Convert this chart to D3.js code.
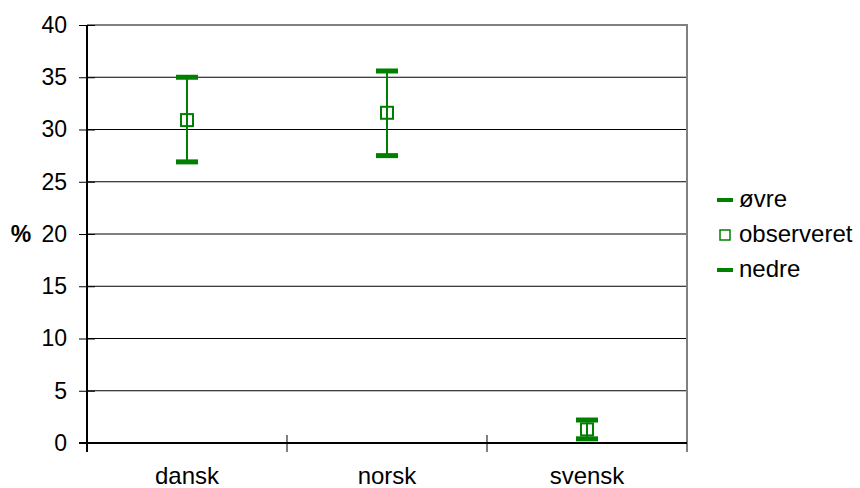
<!DOCTYPE html>
<html>
<head>
<meta charset="utf-8">
<script src="https://cdn.jsdelivr.net/npm/d3@7"></script>
<style>
  body { margin: 0; background: #fff; }
  svg { display: block; font-family: "Liberation Sans", Arial, sans-serif; }
</style>
</head>
<body>
<svg id="chart" width="860" height="488"></svg>
<script>
const categories = ["dansk", "norsk", "svensk"];
const upper = [35.0, 35.6, 2.2];
const observed = [30.9, 31.6, 1.3];
const lower = [26.9, 27.5, 0.4];
const yTicks = [0, 5, 10, 15, 20, 25, 30, 35, 40];
const legendLabels = ["øvre", "observeret", "nedre"];
const yLabel = "%";

const green = "#008000";
const fontSize = 24;
const tickFontSize = 23;
const svg = d3.select("#chart");
const plot = { left: 87, right: 687, top: 25, bottom: 443 };

const x = d3.scaleBand().domain(categories).range([plot.left, plot.right]).padding(0);
const y = d3.scaleLinear().domain([0, 40]).range([plot.bottom, plot.top]);

// gridlines
svg.append("g").selectAll("line").data(yTicks.filter(d => d > 0 && d < 40)).join("line")
  .attr("x1", plot.left).attr("x2", plot.right)
  .attr("y1", d => y(d)).attr("y2", d => y(d))
  .attr("stroke", "#000").attr("stroke-width", 1);

// top and right border (gray)
svg.append("line").attr("x1", plot.left).attr("x2", plot.right + 1)
  .attr("y1", plot.top).attr("y2", plot.top).attr("stroke", "#808080").attr("stroke-width", 2);
svg.append("line").attr("x1", plot.right).attr("x2", plot.right)
  .attr("y1", plot.top).attr("y2", plot.bottom).attr("stroke", "#808080").attr("stroke-width", 2);

// y axis
const yAxis = d3.axisLeft(y).tickValues(yTicks).tickSize(0).tickPadding(20);
const gy = svg.append("g").attr("transform", `translate(${plot.left},0)`).call(yAxis);
gy.select(".domain").remove();
gy.selectAll("text").attr("font-size", tickFontSize).attr("fill", "#000")
  .attr("font-family", "Liberation Sans, Arial, sans-serif");
gy.selectAll(".tick").append("line").attr("x1", -8).attr("x2", 8)
  .attr("stroke", "#000").attr("stroke-width", 1);
svg.append("line").attr("x1", plot.left).attr("x2", plot.left)
  .attr("y1", plot.top).attr("y2", plot.bottom + 9).attr("stroke", "#000").attr("stroke-width", 2);

// x axis boundary ticks
const bounds = categories.map(c => x(c)).concat([plot.right]);
svg.append("g").selectAll("line").data(bounds.slice(1)).join("line")
  .attr("x1", d => d).attr("x2", d => d)
  .attr("y1", plot.bottom - 8).attr("y2", plot.bottom + 9)
  .attr("stroke", "#808080").attr("stroke-width", 2);
svg.append("line").attr("x1", plot.left - 8).attr("x2", plot.right)
  .attr("y1", plot.bottom).attr("y2", plot.bottom).attr("stroke", "#000").attr("stroke-width", 2);

// x labels
const xAxis = d3.axisBottom(x).tickSize(0).tickPadding(0);
const gx = svg.append("g").attr("transform", `translate(0,${plot.bottom})`).call(xAxis);
gx.select(".domain").remove();
gx.selectAll("text").attr("font-size", fontSize).attr("fill", "#000")
  .attr("font-family", "Liberation Sans, Arial, sans-serif")
  .attr("dy", null).attr("y", 41);

// y label
svg.append("text").attr("x", 21).attr("y", y(20)).attr("dy", "0.35em")
  .attr("text-anchor", "middle").attr("font-weight", "bold").attr("font-size", tickFontSize).text(yLabel);

// error bars
const data = categories.map((c, i) => ({ c, hi: upper[i], mid: observed[i], lo: lower[i] }));
const cx = d => x(d.c) + x.bandwidth() / 2;
const g = svg.append("g");
g.selectAll("line.v").data(data).join("line").attr("class", "v")
  .attr("x1", cx).attr("x2", cx).attr("y1", d => y(d.hi)).attr("y2", d => y(d.lo))
  .attr("stroke", green).attr("stroke-width", 2);
g.selectAll("line.hi").data(data).join("line").attr("class", "hi")
  .attr("x1", d => cx(d) - 11).attr("x2", d => cx(d) + 11)
  .attr("y1", d => y(d.hi)).attr("y2", d => y(d.hi))
  .attr("stroke", green).attr("stroke-width", 5);
g.selectAll("line.lo").data(data).join("line").attr("class", "lo")
  .attr("x1", d => cx(d) - 11).attr("x2", d => cx(d) + 11)
  .attr("y1", d => y(d.lo)).attr("y2", d => y(d.lo))
  .attr("stroke", green).attr("stroke-width", 5);
g.selectAll("rect.m").data(data).join("rect").attr("class", "m")
  .attr("x", d => cx(d) - 6).attr("y", d => y(d.mid) - 6)
  .attr("width", 12).attr("height", 12)
  .attr("fill", "none").attr("stroke", green).attr("stroke-width", 2);

// legend
const lg = svg.append("g");
const ly = [200, 235, 270];
legendLabels.forEach((lab, i) => {
  if (i === 1) {
    lg.append("rect").attr("x", 720).attr("y", ly[i] - 5).attr("width", 10).attr("height", 10)
      .attr("fill", "none").attr("stroke", green).attr("stroke-width", 1.5);
  } else {
    lg.append("line").attr("x1", 717).attr("x2", 733).attr("y1", ly[i]).attr("y2", ly[i])
      .attr("stroke", green).attr("stroke-width", 4);
  }
  lg.append("text").attr("x", 739).attr("y", ly[i] + 7).attr("font-size", fontSize)
    .attr("fill", "#000").text(lab);
});
</script>
</body>
</html>
